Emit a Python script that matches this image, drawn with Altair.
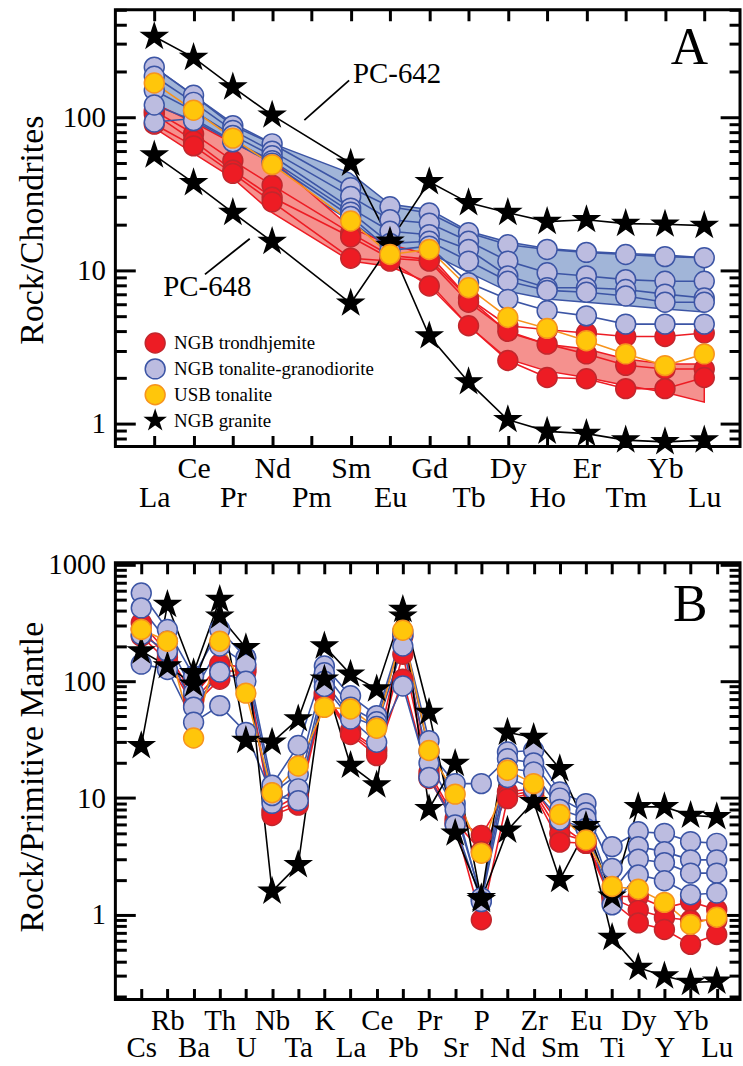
import altair as alt
import pandas as pd

FONT = "Liberation Serif"

# ---------------- Panel A : chondrite-normalised REE ----------------
ree_labels = ["La", "Ce", "Pr", "Nd", "Pm", "Sm", "Eu", "Gd", "Tb", "Dy", "Ho", "Er", "Tm", "Yb", "Lu"]
ree_used = ["La", "Ce", "Pr", "Nd", "Sm", "Eu", "Gd", "Tb", "Dy", "Ho", "Er", "Tm", "Yb", "Lu"]

a_trondhjemite = [
    [110, 78, 52, 36, 17.5, 12.5, 11.8, 6.6, 4.35, 4.1, 3.9, 3.7, 3.7, 3.9],
    [105, 70, 45, 30, 16.5, 12.0, 11.5, 6.2, 4.0, 3.3, 2.85, 2.4, 2.27, 2.27],
    [90, 65, 43, 28, 12.0, 11.5, 7.9, 4.35, 2.58, 2.0, 1.96, 1.69, 1.69, 2.0],
]
a_tonalite = [
    [212, 139, 88, 67, 34.6, 26, 23.7, 17.6, 14.7, 13.7, 13.1, 12.7, 12.3, 12.1],
    [185, 125, 82, 60, 30.4, 21.4, 20.3, 15.5, 11.5, 9.65, 9.2, 8.7, 8.5, 8.5],
    [150, 110, 76, 56, 25.5, 18.0, 17.1, 13.7, 9.2, 7.7, 7.7, 7.5, 7.0, 6.6],
    [93, 98, 70, 52, 24.0, 15.0, 15.5, 11.5, 8.5, 7.4, 7.2, 6.8, 6.2, 6.2],
    [120, 95, 69, 50, 22.5, 13.5, 14.4, 8.3, 6.47, 5.45, 5.05, 4.46, 4.46, 4.46],
]
a_usb = [
    [167, 111, 73, 49, 21, 12.7, 13.7, 7.7, 4.93, 4.18, 3.47, 2.85, 2.39, 2.85],
]
a_granite = [
    [336, 245, 157, 103, 50, 15.5, 37.8, 27.6, 23.8, 20.8, 21.4, 20.2, 20.0, 19.6],   # PC-642
    [56.6, 37.3, 23.8, 15.4, 6.1, 14.5, 3.73, 1.87, 1.06, 0.89, 0.86, 0.78, 0.76, 0.78],  # PC-648
]
a_blue_hi = [212, 139, 91, 67.5, 43, 27, 25, 18, 15.3, 13.9, 13.3, 12.9, 12.6, 12.1]
a_blue_lo = [93, 93, 64, 44, 21, 13.5, 13, 9.7, 7.3, 6.5, 6.2, 5.9, 5.6, 5.36]
a_red_hi = [123, 92.6, 67.6, 52.6, 19, 14.7, 12.7, 6.6, 3.94, 3.3, 3.07, 2.64, 2.45, 2.45]
a_red_lo = [85, 58, 40, 23.8, 11.5, 10.6, 8.3, 4.35, 2.64, 2.2, 2.0, 1.77, 1.6, 1.38]

a_yticks = [0.8, 0.9, 1, 2, 3, 4, 5, 6, 7, 8, 9, 10, 20, 30, 40, 50, 60, 70, 80, 90,
            100, 200, 300, 400, 500]

a_note_text = ["PC-642", "PC-648"]
a_note_x = [5.06, 0.23]
a_note_y = [190, 7.76]
a_leader_x = [3.82, 1.29]
a_leader_y = [95.6, 9.42]
a_leader_x2 = [4.96, 2.43]
a_leader_y2 = [174, 16.1]

# ---------------- Panel B : primitive-mantle normalised spider ----------------
spider_labels = ["Cs", "Rb", "Ba", "Th", "U", "Nb", "Ta", "K", "La", "Ce", "Pb", "Pr", "Sr",
                 "P", "Nd", "Zr", "Sm", "Eu", "Ti", "Dy", "Y", "Yb", "Lu"]

b_trondhjemite = [
    [316, 175, 75, 140, 131, 7.9, 10.6, 80, 37.8, 26.4, 243, 16.7, 6.7, 4.8, 11.3, 12, 5.9, 4.1, 1.44, 1.44, 1.15, 1.3, 1.11],
    [280, 160, 68, 120, 125, 7.5, 9.5, 78, 36, 25, 170, 15.5, 6.3, 3.5, 10.5, 11.5, 5.0, 4.3, 1.4, 1.1, 0.95, 0.9, 0.9],
    [243, 149, 61.8, 104, 120, 7.1, 8.7, 75, 35, 23.1, 104, 14.7, 6.0, 0.91, 9.9, 11, 4.2, 4.1, 1.3, 0.855, 0.75, 0.56, 0.68],
]
b_tonalite = [
    [569, 277, 111, 277, 159, 12.9, 28.2, 135, 75, 50.7, 266, 31, 9, 1.35, 24.8, 25.5, 11.3, 8.97, 3.84, 5.15, 4.99, 4.24, 4.1],
    [424, 220, 80, 200, 140, 11, 16, 118, 60, 45, 250, 25, 13.3, 13.3, 21.7, 20, 10, 7.5, 2.5, 3.84, 3.48, 2.96, 2.96],
    [250, 180, 60, 120, 100, 9, 12, 100, 50, 41, 200, 20, 8, 1.4, 18, 16.7, 8, 6.7, 1.6, 3.0, 2.8, 2.28, 2.28],
    [140, 126, 44.5, 61.8, 36.5, 10.5, 9.5, 90, 47.5, 30, 91, 15, 5.9, 1.3, 15, 12, 6.5, 5.5, 1.22, 2.2, 1.96, 1.49, 1.54],
]
b_usb = [
    [277, 220, 32.7, 220, 79, 11.1, 18.8, 59.7, 57.8, 39.6, 273, 25.5, 10.8, 3.37, 17.3, 13.3, 7.24, 4.38, 1.75, 1.66, 1.28, 0.83, 0.955],
]
b_granite = [
    [28, 452, 118, 499, 31, 30, 47.5, 200, 114.5, 85.5, 410, 54, 5, 1.4, 36.5, 33, 17.8, 5.8, 1.44, 8.4, 8.4, 7.1, 6.9],
    [181, 135, 94, 360, 193, 1.59, 2.68, 104, 19, 12.9, 360, 8.1, 19.7, 1.35, 5.3, 9.3, 2.0, 5.3, 0.64, 0.354, 0.30, 0.264, 0.27],
]
b_yticks = [0.2, 0.3, 0.4, 0.5, 0.6, 0.7, 0.8, 0.9, 1, 2, 3, 4, 5, 6, 7, 8, 9,
            10, 20, 30, 40, 50, 60, 70, 80, 90, 100, 200, 300, 400, 500, 600, 700, 800, 900, 1000]

# ---------------- styles ----------------
STAR = ("M0,-1 L0.225,-0.309 L0.951,-0.309 L0.363,0.118 L0.588,0.809 L0,0.382 "
        "L-0.588,0.809 L-0.363,0.118 L-0.951,-0.309 L-0.225,-0.309 Z")
groups = ["NGB trondhjemite", "NGB tonalite-granodiorite", "USB tonalite", "NGB granite"]
group_fill = ["#ed1c24", "#bcbce0", "#ffc60b", "#000000"]
group_stroke = ["#c1272d", "#3c55a5", "#f7941d", "#000000"]
group_shape = ["circle", "circle", "circle", STAR]
group_line = ["#ed1c24", "#3c55a5", "#f7941d", "#000000"]

MAJOR = "abs(log(datum.value)/LN10 - round(log(datum.value)/LN10)) < 1e-6"


def long_df(elements, labels, sets):
    rows = []
    for grp, samples in sets:
        gi = groups.index(grp)
        for k, vals in enumerate(samples):
            for el, v in zip(elements, vals):
                rows.append(dict(group=grp, sample="%s %d" % (grp, k), x=labels.index(el),
                                 y=v, lc=group_line[gi]))
    return pd.DataFrame(rows)


def panel(labels, elements, sets, fields, notes, leaders, letter, xdom, ydom, yticks,
          ytitle, title_y, pad, line_h, lab_size, show_legend):
    names = "[" + ",".join("'%s'" % s for s in labels) + "]"
    idx = list(range(len(labels)))
    xsc = alt.Scale(domain=xdom, nice=False, zero=False)
    ysc = alt.Scale(type="log", domain=ydom, nice=False)

    lab = names + "[round(datum.value)]"
    ax_bottom = alt.Axis(orient="bottom", values=idx, title=None, offset=-11, tickSize=11,
                         tickWidth=3, tickColor="black", domain=False, grid=False,
                         labelExpr="round(datum.value) % 2 == 1 ? " + lab + " : ['', " + lab + "]",
                         labelFont=FONT, labelLineHeight=line_h,
                         labelFontSize=lab_size, labelColor="black", labelAngle=0,
                         labelFlush=False, labelOverlap=False, labelBaseline="top",
                         labelAlign="center", labelPadding=pad)
    ax_top = alt.Axis(orient="top", values=idx, title=None, offset=-11, tickSize=11,
                      tickWidth=3, tickColor="black", domain=False, grid=False, labels=False)
    dash = dict(tickDash=[20, 200],
                tickDashOffset={"condition": {"test": MAJOR, "value": 0}, "value": 211})
    ax_left = alt.Axis(orient="left", values=yticks, title=ytitle, offset=-20, tickSize=20,
                       tickWidth=3, tickColor="black", domain=False, grid=False,
                       labelExpr=MAJOR + " ? format(datum.value, 'd') : ''",
                       labelFont=FONT,
                       labelFontSize={"condition": {"test": MAJOR, "value": 29}, "value": 0.1},
                       labelColor="black", labelPadding=10,
                       labelOverlap=False, titleFont=FONT, titleFontSize=34,
                       titleFontWeight="normal", titleColor="black", titleAngle=270,
                       titleX=-103, titleY=title_y, titleAlign="center",
                       titleBaseline="middle", **dash)
    ax_right = alt.Axis(orient="right", values=yticks, title=None, offset=-20, tickSize=20,
                        tickWidth=3, tickColor="black", domain=False, grid=False,
                        labels=False, **dash)

    layers = []
    for lo, hi, fill, stroke in fields:
        fdf = pd.DataFrame(dict(x=[labels.index(e) for e in elements], lo=lo, hi=hi))
        layers.append(alt.Chart(fdf).mark_area(fill=fill, stroke=stroke, strokeWidth=1.5,
                                               opacity=1).encode(
            x=alt.X("x:Q", scale=xsc, axis=None),
            y=alt.Y("lo:Q", scale=ysc, axis=None),
            y2="hi:Q"))

    pts = long_df(elements, labels, sets)
    layers.append(alt.Chart(pts).mark_line(strokeWidth=1.6).encode(
        x=alt.X("x:Q", scale=xsc, axis=ax_bottom),
        y=alt.Y("y:Q", scale=ysc, axis=ax_left),
        detail="sample:N",
        stroke=alt.Stroke("lc:N", scale=None)))

    if show_legend:
        leg = alt.Legend(orient="none", legendX=29, legendY=324, title=None, padding=0,
                         rowPadding=0, labelFont=FONT, labelFontSize=19, labelColor="black",
                         labelLimit=400, symbolSize=400, symbolStrokeWidth=1.5,
                         symbolOpacity=1, labelOffset=8)
    else:
        leg = None
    fsc = alt.Scale(domain=groups, range=group_fill)
    ssc = alt.Scale(domain=groups, range=group_stroke)
    shsc = alt.Scale(domain=groups, range=group_shape)

    subsets = [
        (pts[pts.group.isin(["NGB trondhjemite", "NGB tonalite-granodiorite"])], 400, ax_top, ax_right, leg),
        (pts[pts.group == "NGB granite"], 700, None, None, None),
        (pts[pts.group == "USB tonalite"], 400, None, None, None),
    ]
    for sub, size, axx, axy, lg in subsets:
        layers.append(alt.Chart(sub).mark_point(filled=True, opacity=1, size=size,
                                                strokeWidth=1.5).encode(
            x=alt.X("x:Q", scale=xsc, axis=axx),
            y=alt.Y("y:Q", scale=ysc, axis=axy),
            fill=alt.Fill("group:N", scale=fsc, legend=lg),
            stroke=alt.Stroke("group:N", scale=ssc, legend=lg),
            shape=alt.Shape("group:N", scale=shsc, legend=lg)))

    if leaders is not None:
        ldf = pd.DataFrame(dict(x=leaders[0], y=leaders[1], x2=leaders[2], y2=leaders[3]))
        layers.append(alt.Chart(ldf).mark_rule(color="black", strokeWidth=1.8).encode(
            x=alt.X("x:Q", scale=xsc, axis=None), y=alt.Y("y:Q", scale=ysc, axis=None),
            x2="x2:Q", y2="y2:Q"))
    if notes is not None:
        ndf = pd.DataFrame(dict(t=notes[0], x=notes[1], y=notes[2]))
        layers.append(alt.Chart(ndf).mark_text(font=FONT, fontSize=29, align="left",
                                               baseline="middle", color="black").encode(
            x=alt.X("x:Q", scale=xsc, axis=None), y=alt.Y("y:Q", scale=ysc, axis=None),
            text="t:N"))
    ldf2 = pd.DataFrame(dict(t=[letter[0]], x=[letter[1]], y=[letter[2]]))
    layers.append(alt.Chart(ldf2).mark_text(font=FONT, fontSize=52, align="center",
                                            baseline="middle", color="black").encode(
        x=alt.X("x:Q", scale=xsc, axis=None), y=alt.Y("y:Q", scale=ysc, axis=None),
        text="t:N"))

    return alt.layer(*layers).resolve_axis(x="independent", y="independent").properties(
        width=628, height=439)


chart_a = panel(
    ree_labels, ree_used,
    [("NGB trondhjemite", a_trondhjemite), ("NGB tonalite-granodiorite", a_tonalite),
     ("NGB granite", a_granite), ("USB tonalite", a_usb)],
    [(a_blue_lo, a_blue_hi, "#a1b5d8", "#3c55a5"), (a_red_lo, a_red_hi, "#f5918e", "#ed1c24")],
    (a_note_text, a_note_x, a_note_y),
    (a_leader_x, a_leader_y, a_leader_x2, a_leader_y2),
    ("A", 13.62, 281),
    [-0.99, 14.91], [0.709, 502], a_yticks, "Rock/Chondrites", 221, 7, 29, 30, True)

chart_b = panel(
    spider_labels, spider_labels,
    [("NGB trondhjemite", b_trondhjemite), ("NGB tonalite-granodiorite", b_tonalite),
     ("NGB granite", b_granite), ("USB tonalite", b_usb)],
    [], None, None,
    ("B", 20.99, 452),
    [-0.99, 22.89], [0.189, 1030], b_yticks, "Rock/Primitive Mantle", 215, 7, 27, 29, False)

chart = alt.vconcat(chart_a, chart_b, spacing=35).resolve_scale(
    fill="independent", stroke="independent", shape="independent"
).properties(
    padding={"left": 14, "top": 4, "right": 0, "bottom": 0}
).configure_view(stroke="black", strokeWidth=3)

chart.save("out.html", embed_options={"renderer": "svg", "actions": False})
